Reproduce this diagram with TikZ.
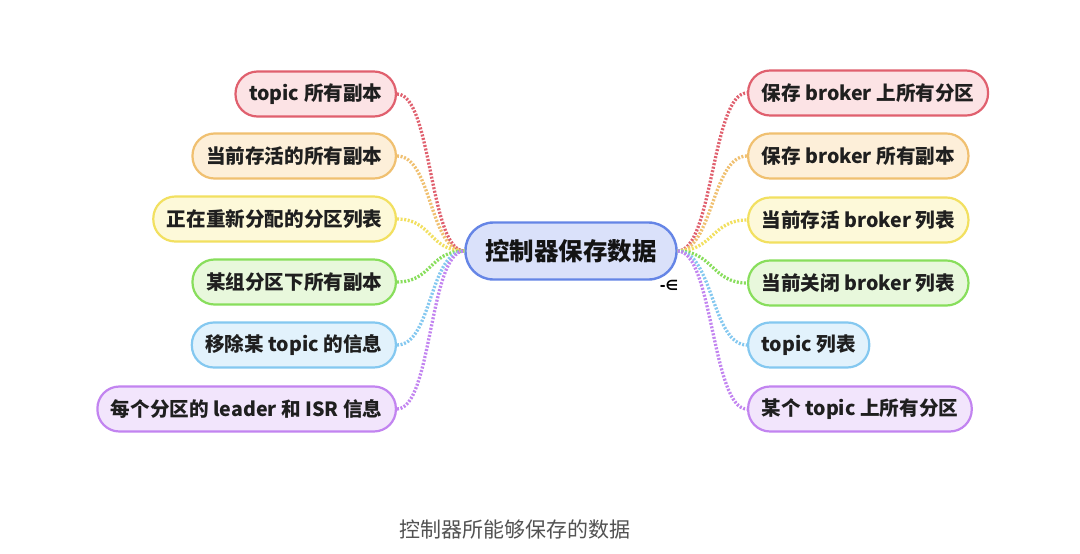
\documentclass[tikz,border=0pt]{standalone}
\usepackage{fontspec}
\newfontfamily\cjk{Noto Sans CJK SC}
\newfontfamily\symf{DejaVu Sans}
\definecolor{cred}{HTML}{E0606E}
\definecolor{fred}{HTML}{FCE3E5}
\definecolor{cora}{HTML}{F0C070}
\definecolor{fora}{HTML}{FDEFD9}
\definecolor{cyel}{HTML}{F2E060}
\definecolor{fyel}{HTML}{FDF9D9}
\definecolor{cgrn}{HTML}{88DE5C}
\definecolor{fgrn}{HTML}{E8F8DC}
\definecolor{cblu}{HTML}{84C8F0}
\definecolor{fblu}{HTML}{E2F2FC}
\definecolor{cpur}{HTML}{C284F0}
\definecolor{fpur}{HTML}{F2E5FC}
\definecolor{ccen}{HTML}{6585E6}
\definecolor{fcen}{HTML}{DAE1FA}
\tikzset{
  leaf/.style={draw, line width=2.2pt, rounded corners=22pt, minimum height=45pt,
    inner xsep=13.5pt, inner ysep=0pt, text=black!88,
    font=\cjk\bfseries\fontsize{19.6}{19.6}\selectfont},
  nred/.style={draw=cred, fill=fred},
  nora/.style={draw=cora, fill=fora},
  nyel/.style={draw=cyel, fill=fyel},
  ngrn/.style={draw=cgrn, fill=fgrn},
  nblu/.style={draw=cblu, fill=fblu},
  npur/.style={draw=cpur, fill=fpur},
  conn/.style={line width=3.3pt, dash pattern=on 2pt off 1.6pt},
}
\begin{document}
\begin{tikzpicture}[x=1pt,y=-1pt]
\fill[white] (0,0) rectangle (1080,554);
% center
\node[draw=ccen, fill=fcen, line width=2.4pt, rounded corners=28pt,
  minimum height=57pt, minimum width=211pt, inner sep=0pt, text=black!92,
  font=\cjk\bfseries\fontsize{24.5}{24.5}\selectfont] (c) at (571,251) {控制器保存数据};
% left leaves
\node[leaf, nred, anchor=east] (l1) at (397,94)  {topic 所有副本};
\node[leaf, nora, anchor=east] (l2) at (397,156) {当前存活的所有副本};
\node[leaf, nyel, anchor=east] (l3) at (397,219) {正在重新分配的分区列表};
\node[leaf, ngrn, anchor=east] (l4) at (397,282) {某组分区下所有副本};
\node[leaf, nblu, anchor=east] (l5) at (397,345) {移除某 topic 的信息};
\node[leaf, npur, anchor=east] (l6) at (397,409) {每个分区的 leader 和 ISR 信息};
% right leaves
\node[leaf, nred, anchor=west] (r1) at (747,93)  {保存 broker 上所有分区};
\node[leaf, nora, anchor=west] (r2) at (747,156) {保存 broker 所有副本};
\node[leaf, nyel, anchor=west] (r3) at (747,220) {当前存活 broker 列表};
\node[leaf, ngrn, anchor=west] (r4) at (747,283) {当前关闭 broker 列表};
\node[leaf, nblu, anchor=west] (r5) at (747,345) {topic 列表};
\node[leaf, npur, anchor=west] (r6) at (747,409) {某个 topic 上所有分区};
% connectors
\foreach \n/\col in {l1/cred,l2/cora,l3/cyel,l4/cgrn,l5/cblu,l6/cpur}{
  \draw[conn, draw=\col] (\n.east) .. controls +(35,0) and +(-35,0) .. (c.west);
}
\foreach \n/\col in {r1/cred,r2/cora,r3/cyel,r4/cgrn,r5/cblu,r6/cpur}{
  \draw[conn, draw=\col] (c.east) .. controls +(35,0) and +(-35,0) .. (\n.west);
}
% small mark
\node[font=\symf\bfseries\fontsize{14}{14}\selectfont, inner sep=0pt] (mk) at (669,285) {-∈};
% caption
\node[font=\cjk\fontsize{21}{21}\selectfont, text=black!68, inner sep=0pt] (cap) at (515,530) {控制器所能够保存的数据};
\end{tikzpicture}
\end{document}
